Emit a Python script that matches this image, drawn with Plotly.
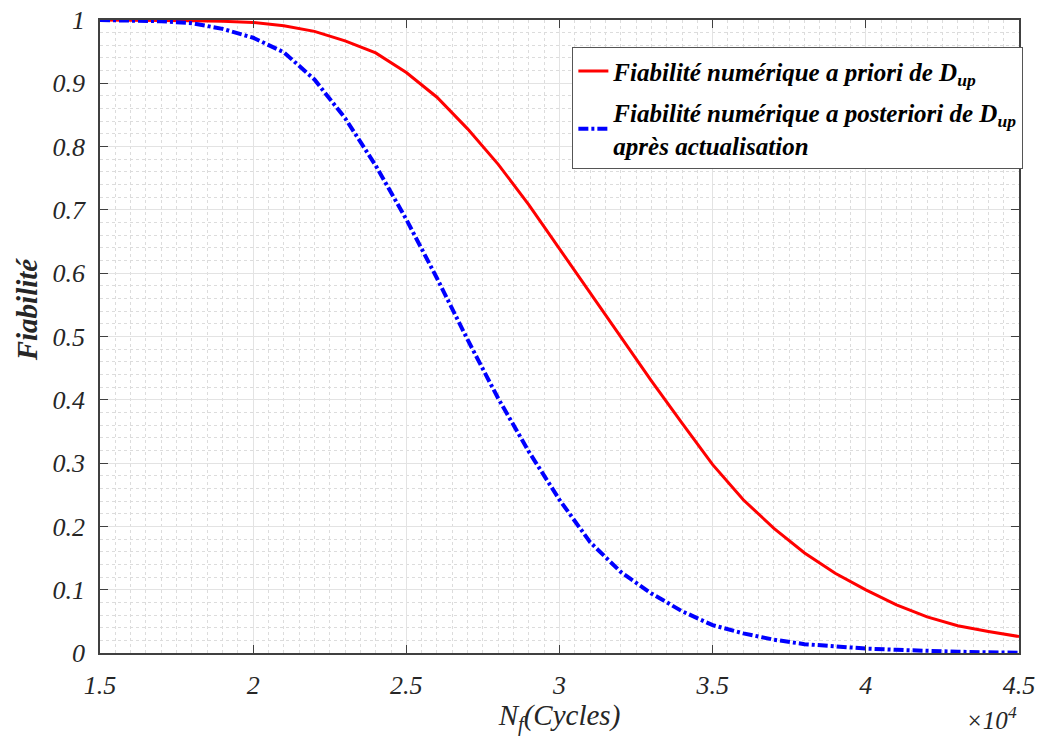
import plotly.graph_objects as go

cycles = [15000, 16000, 17000, 18000, 19000, 20000, 21000, 22000, 23000, 24000,
          25000, 26000, 27000, 28000, 29000, 30000, 31000, 32000, 33000, 34000,
          35000, 36000, 37000, 38000, 39000, 40000, 41000, 42000, 43000, 44000, 45000]
fiab_priori = [1.0, 1.0, 0.9995, 0.999, 0.998, 0.996, 0.991, 0.982, 0.967, 0.948,
               0.917, 0.878, 0.828, 0.772, 0.708, 0.638, 0.568, 0.500, 0.430, 0.363,
               0.2975, 0.242, 0.197, 0.158, 0.126, 0.0997, 0.076, 0.057, 0.043, 0.034, 0.026]
fiab_posteriori = [1.0, 0.9995, 0.998, 0.995, 0.986, 0.972, 0.949, 0.906, 0.845, 0.770,
                   0.685, 0.592, 0.495, 0.402, 0.318, 0.242, 0.175, 0.128, 0.094, 0.066,
                   0.044, 0.031, 0.021, 0.014, 0.010, 0.007, 0.005, 0.003, 0.002, 0.001, 0.0005]

xtick_vals = [15000, 20000, 25000, 30000, 35000, 40000, 45000]
xtick_text = ["1.5", "2", "2.5", "3", "3.5", "4", "4.5"]
ytick_vals = [0, 0.1, 0.2, 0.3, 0.4, 0.5, 0.6, 0.7, 0.8, 0.9, 1]
ytick_text = ["0", "0.1", "0.2", "0.3", "0.4", "0.5", "0.6", "0.7", "0.8", "0.9", "1"]

SERIF = "Liberation Serif, DejaVu Serif, serif"

fig = go.Figure()
fig.add_trace(go.Scatter(
    x=cycles, y=fiab_priori, mode="lines",
    name="Fiabilité numérique a priori de D<sub>up</sub>",
    legendgroup="a",
    line=dict(color="#ff0000", width=3),
))
fig.add_trace(go.Scatter(
    x=cycles, y=fiab_posteriori, mode="lines",
    name="Fiabilité numérique a posteriori de D<sub>up</sub><br>après actualisation",
    legendgroup="b",
    line=dict(color="#0000ff", width=4, dash="10px,3px,3px,3px"),
))

fig.update_layout(
    width=1038, height=736,
    margin=dict(l=100, r=19, t=20, b=83),
    plot_bgcolor="white", paper_bgcolor="white",
    showlegend=True,
    legend=dict(
        x=0.514, y=0.957, xanchor="left", yanchor="top",
        bgcolor="white", bordercolor="#555555", borderwidth=1,
        font=dict(family=SERIF, size=25, color="black", style="italic", weight="bold"),
        itemwidth=30, tracegroupgap=6,
    ),
    xaxis=dict(
        range=[15000, 45000], automargin=False,
        tickvals=xtick_vals, ticktext=xtick_text,
        ticks="inside", ticklen=8, tickcolor="#404040",
        showline=True, linecolor="#404040", linewidth=1.5, mirror="ticks",
        showgrid=True, gridcolor="#e3e3e3", gridwidth=1,
        minor=dict(dtick=500, showgrid=True, gridcolor="#dcdcdc", griddash="dot", gridwidth=1),
        zeroline=False, ticklabelstandoff=8, ticklabeloverflow="allow",
        tickfont=dict(family=SERIF, size=26, color="#262626", style="italic"),
        title=dict(text="N<sub>f</sub>(Cycles)", standoff=6,
                   font=dict(family=SERIF, size=29, color="#262626", style="italic")),
    ),
    yaxis=dict(
        range=[0, 1], automargin=False,
        tickvals=ytick_vals, ticktext=ytick_text,
        ticks="inside", ticklen=8, tickcolor="#404040",
        showline=True, linecolor="#404040", linewidth=1.5, mirror="ticks",
        showgrid=True, gridcolor="#e3e3e3", gridwidth=1,
        minor=dict(dtick=0.02, showgrid=True, gridcolor="#dcdcdc", griddash="dot", gridwidth=1),
        zeroline=False, ticklabelstandoff=8, ticklabeloverflow="allow",
        tickfont=dict(family=SERIF, size=26, color="#262626", style="italic"),
    ),
    annotations=[
        dict(
            text="×10<sup>4</sup>", xref="paper", yref="paper", x=1.0, y=-0.103,
            xanchor="right", yanchor="middle", showarrow=False,
            font=dict(family=SERIF, size=25, color="#262626", style="italic"),
        ),
        dict(
            text="Fiabilité", xref="paper", yref="paper", x=-0.0794, y=0.543,
            xanchor="center", yanchor="middle", textangle=-90, showarrow=False,
            font=dict(family=SERIF, size=29, color="#262626", style="italic", weight="bold"),
        ),
    ],
)

fig.write_html("out.html", config={"displayModeBar": False},
               post_script="document.body.style.margin='0';")
